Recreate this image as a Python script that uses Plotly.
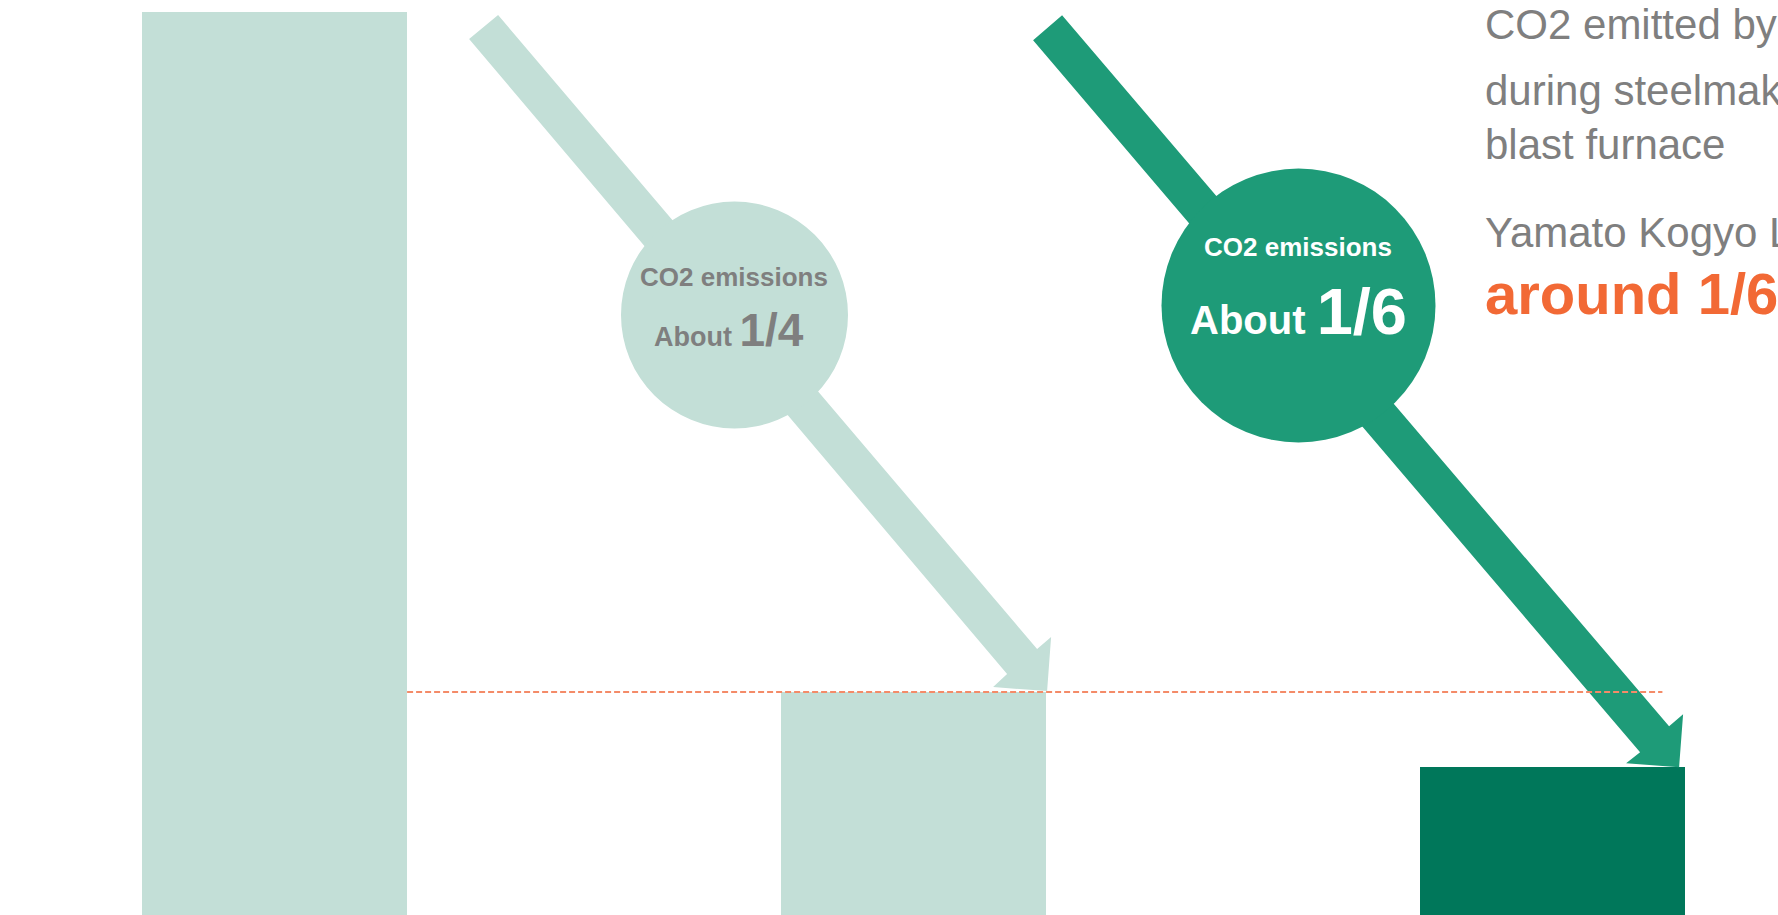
import plotly.graph_objects as go

# ---- data -------------------------------------------------------------
categories = ["Blast furnace", "Electric furnace", "Yamato Kogyo"]
emissions = [100, 25, 16.7]          # relative CO2 emissions (blast furnace = 100)
bar_colors = ["#C3DFD7", "#C3DFD7", "#00775A"]
reference_level = emissions[1]       # dashed guide at the electric-furnace level

circle_labels = [("CO2 emissions", "About", "1/4"),
                 ("CO2 emissions", "About", "1/6")]
side_lines = ["CO2 emitted by", "during steelmaking in a", "blast furnace",
              "Yamato Kogyo Ltd."]
side_highlight = "around 1/6"

# ---- layout constants -------------------------------------------------
W, H = 1778, 915
FONT = "Liberation Sans, Arial, sans-serif"
GRAY = "#7F7F7F"
LIGHT = "#C3DFD7"
MID = "#1E9B78"
ORANGE = "#F26935"
BAR_W = 0.415

fig = go.Figure()
fig.add_trace(go.Bar(
    x=categories, y=emissions, width=BAR_W,
    marker=dict(color=bar_colors, line=dict(width=0)),
    hoverinfo="skip",
))


def paper(px, py):
    return px / W, 1 - py / H


def arrow_path(pts):
    # pts are pixel offsets (x right, y down) from the arrow tip
    segs = [f"{x},{-y}" for x, y in pts]
    return "M " + " L ".join(segs) + " Z"


ARROW_1 = [(-548, -677), (-9, -43), (5, -55), (1, -1), (-53, -5), (-39, -18), (-577, -653)]
ARROW_2 = [(-623, -752), (-16, -41), (-2, -53), (-6, 0), (-59, -4), (-45, -15), (-652, -727)]

shapes = []
# arrows end on the top-right corner of the bar they point to
for idx, pts, col in [(1, ARROW_1, LIGHT), (2, ARROW_2, MID)]:
    shapes.append(dict(
        type="path", xref="x", yref="y",
        xsizemode="pixel", ysizemode="pixel",
        xanchor=idx + BAR_W / 2, yanchor=emissions[idx],
        path=arrow_path(pts), fillcolor=col, line=dict(width=0), layer="above",
    ))

# round badges on the arrows
for (cx, cy, r), col in [((734.5, 315, 113.5), LIGHT), ((1298.5, 305.5, 137), MID)]:
    ax, ay = paper(cx, cy)
    shapes.append(dict(
        type="circle", xref="paper", yref="paper",
        xsizemode="pixel", ysizemode="pixel", xanchor=ax, yanchor=ay,
        x0=-r, x1=r, y0=-r, y1=r,
        fillcolor=col, line=dict(width=0), layer="above",
    ))

# dashed guide from the first bar to the last
shapes.append(dict(
    type="line", xref="x", yref="y",
    x0=BAR_W / 2, x1=2.172, y0=reference_level, y1=reference_level,
    line=dict(color="#F48B68", width=2, dash="6px,3px"), layer="above",
))

annotations = []


def add_text(text, px, py, size, color, xanchor="center"):
    ax, ay = paper(px, py)
    annotations.append(dict(
        text=text, x=ax, y=ay, xref="paper", yref="paper",
        xanchor=xanchor, yanchor="middle", showarrow=False,
        font=dict(family=FONT, size=size, color=color),
    ))


# badge 1
t, a, f = circle_labels[0]
add_text(f"<b>{t}</b>", 734, 277, 26, GRAY)
add_text(f"<b>{a} <span style='font-size:46px'>{f}</span></b>", 729, 330, 27, GRAY)
# badge 2
t, a, f = circle_labels[1]
add_text(f"<b>{t}</b>", 1298, 247, 26, "#FFFFFF")
add_text(f"<b>{a} <span style='font-size:65px'>{f}</span></b>", 1298, 311, 40, "#FFFFFF")

# side note
for line, base in zip(side_lines, [39, 105, 159, 247]):
    add_text(line, 1483, base - 14.6, 42, GRAY, xanchor="left")
add_text(f"<b>{side_highlight}</b>", 1483, 293, 58, ORANGE, xanchor="left")

fig.update_layout(
    width=W, height=H,
    margin=dict(l=0, r=0, t=0, b=0),
    paper_bgcolor="white", plot_bgcolor="white",
    showlegend=False, bargap=0,
    shapes=shapes, annotations=annotations,
    xaxis=dict(range=[-0.4296, 2.3529], showticklabels=False, showgrid=False,
               zeroline=False, ticks="", fixedrange=True),
    yaxis=dict(range=[0.41, 101.33], showticklabels=False, showgrid=False,
               zeroline=False, ticks="", fixedrange=True),
    hovermode=False,
)

fig.write_html("out.html", config={"displayModeBar": False})
